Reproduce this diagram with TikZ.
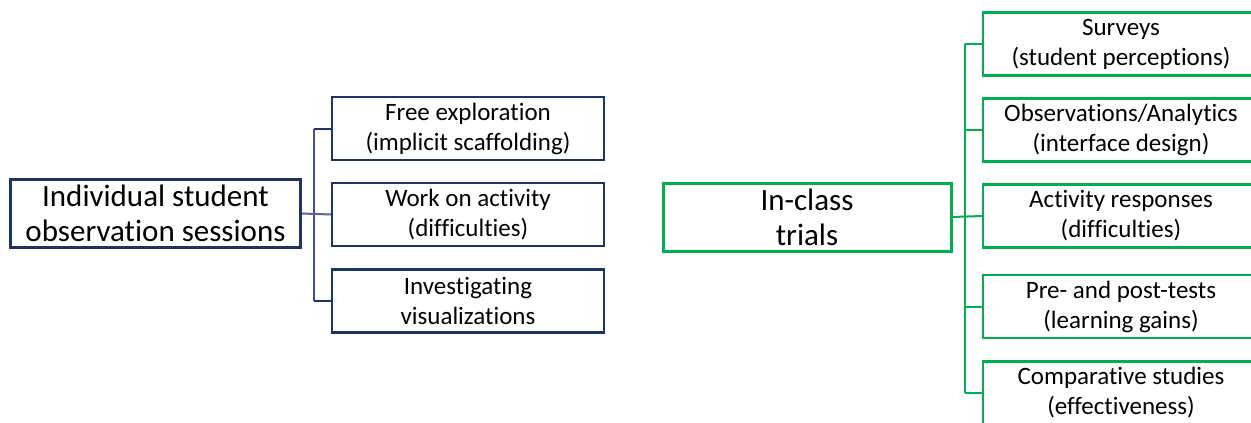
\documentclass[tikz,border=0pt]{standalone}
\usepackage{fontspec}
\setmainfont[Ligatures={NoCommon}]{Carlito}
\definecolor{navy}{RGB}{31,52,102}
\definecolor{grn}{RGB}{0,176,80}
\definecolor{txt}{RGB}{0,0,0}
\tikzset{
  mainbox/.style={draw, line width=3pt, minimum width=#1, minimum height=68pt, inner sep=0pt, align=center, font=\fontsize{31}{35}\selectfont, text=txt},
  subbox/.style={draw, line width=2.2pt, minimum width=#1, minimum height=63pt, inner sep=0pt, align=center, font=\fontsize{25}{30}\selectfont, text=txt},
  conn/.style={line width=2pt},
}
\begin{document}
\begin{tikzpicture}[x=1pt,y=-1pt]
\useasboundingbox (0,0) rectangle (1251,423);
\begin{scope}
\clip (0,0) rectangle (1251,423);
% left group
\node[mainbox=290pt, draw=navy] (lm) at (155.5,213.5) {Individual student\\observation sessions};
\node[subbox=272pt, draw=navy] (l1) at (468,128.5) {Free exploration\\(implicit scaffolding)};
\node[subbox=272pt, draw=navy] (l2) at (468,214.5) {Work on activity\\(difficulties)};
\node[subbox=272pt, draw=navy] (l3) at (468,301) {Investigating\\visualizations};
\coordinate (lt) at (314,0);
\draw[conn, draw=navy!85] (lt |- l1.west) -- (lt |- l3.west);
\draw[conn, draw=navy] (lt |- l1.west) -- (l1.west);
\draw[conn, draw=navy] (lt |- l3.west) -- (l3.west);
\draw[conn, draw=navy!75] (lm.east) -- (l2.west);
% right group
\node[mainbox=288pt, draw=grn] (rm) at (807,217) {In-class\\trials};
\node[subbox=276pt, draw=grn] (r1) at (1121,44) {Surveys\\(student perceptions)};
\node[subbox=276pt, draw=grn] (r2) at (1121,130) {Observations/Analytics\\(interface design)};
\node[subbox=276pt, draw=grn] (r3) at (1121,216) {Activity responses\\(difficulties)};
\node[subbox=276pt, draw=grn] (r4) at (1121,306.5) {Pre- and post-tests\\(learning gains)};
\node[subbox=276pt, draw=grn] (r5) at (1121,393) {Comparative studies\\(effectiveness)};
\coordinate (rt) at (965,0);
\draw[conn, draw=grn] (rt |- r1.west) -- (rt |- r5.west);
\foreach \n in {r1,r2,r4,r5} \draw[conn, draw=grn] (rt |- \n.west) -- (\n.west);
\draw[conn, draw=grn] (rm.east) -- (r3.west);
\end{scope}
\end{tikzpicture}
\end{document}
